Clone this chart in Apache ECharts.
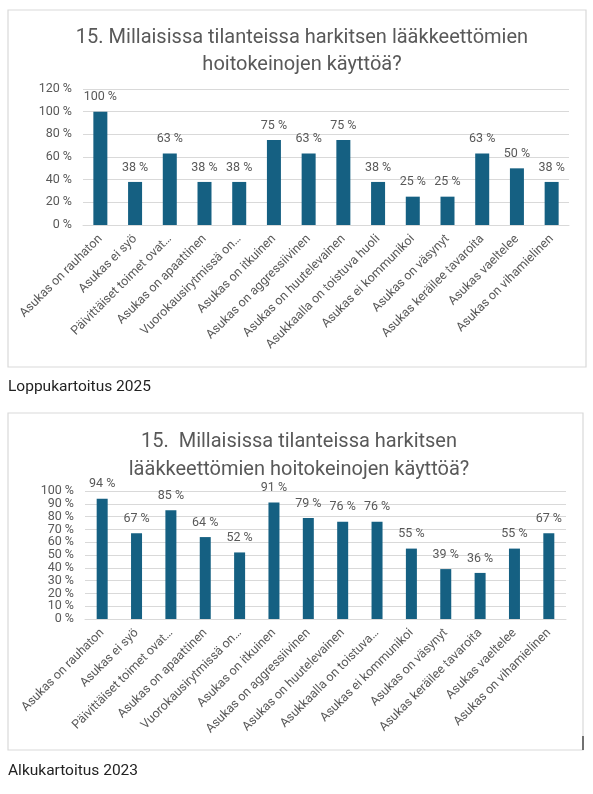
<!DOCTYPE html>
<html>
<head>
<meta charset="utf-8">
<script src="https://cdn.jsdelivr.net/npm/echarts@6/dist/echarts.min.js"></script>
<style>
    html, body { margin: 0; padding: 0; background: #fff; }
    #chart { width: 593px; height: 794px; }
</style>
</head>
<body>
<div id="chart"></div>
<script>
    "use strict";

    // ------------------------------
    // Data
    // ------------------------------
    var categories2025 = ['Asukas on rauhaton', 'Asukas ei syö', 'Päivittäiset toimet ovat…', 'Asukas on apaattinen',
        'Vuorokausirytmissä on…', 'Asukas on itkuinen', 'Asukas on aggressiivinen', 'Asukas on huutelevainen',
        'Asukkaalla on toistuva huoli', 'Asukas ei kommunikoi', 'Asukas on väsynyt', 'Asukas keräilee tavaroita',
        'Asukas vaeltelee', 'Asukas on vihamielinen'];
    var values2025 = [100, 38, 63, 38, 38, 75, 63, 75, 38, 25, 25, 63, 50, 38];
    var ticks2025 = [0, 20, 40, 60, 80, 100, 120];

    var categories2023 = ['Asukas on rauhaton', 'Asukas ei syö', 'Päivittäiset toimet ovat…', 'Asukas on apaattinen',
        'Vuorokausirytmissä on…', 'Asukas on itkuinen', 'Asukas on aggressiivinen', 'Asukas on huutelevainen',
        'Asukkaalla on toistuva…', 'Asukas ei kommunikoi', 'Asukas on väsynyt', 'Asukas keräilee tavaroita',
        'Asukas vaeltelee', 'Asukas on vihamielinen'];
    var values2023 = [94, 67, 85, 64, 52, 91, 79, 76, 76, 55, 39, 36, 55, 67];
    var ticks2023 = [0, 10, 20, 30, 40, 50, 60, 70, 80, 90, 100];

    var title2025 = '15. Millaisissa tilanteissa harkitsen lääkkeettömien\nhoitokeinojen käyttöä?';
    var title2023 = '15.  Millaisissa tilanteissa harkitsen\nlääkkeettömien hoitokeinojen käyttöä?';

    var barColor = '#156082';
    var textGray = '#595959';
    var lineGray = '#d9d9d9';
    var font = 'Roboto';

    function xAxisFor(cats, idx) {
        return {
            type: 'category',
            gridIndex: idx,
            data: cats,
            axisTick: { show: false },
            axisLine: { lineStyle: { color: lineGray } },
            axisLabel: {
                interval: 0,
                rotate: 45,
                margin: 12,
                fontSize: 12.5,
                fontFamily: font,
                color: textGray
            }
        };
    }

    // keep(i) decides which tick labels this axis writes; the 10 % steps of the
    // lower chart are split over two stacked axes so none gets dropped as overlap
    function yAxisFor(ticks, idx, keep, grid) {
        return {
            type: 'value',
            gridIndex: idx,
            position: 'left',
            offset: 0,
            min: ticks[0],
            max: ticks[ticks.length - 1],
            interval: ticks[1] - ticks[0],
            axisLine: { show: false },
            axisTick: { show: false },
            splitLine: { show: grid, lineStyle: { color: lineGray } },
            axisLabel: {
                margin: 11,
                fontSize: 12.5,
                fontFamily: font,
                color: textGray,
                showMinLabel: true,
                showMaxLabel: true,
                formatter: function (value) {
                    return keep(ticks.indexOf(value)) ? value + ' %' : '';
                }
            }
        };
    }

    function all() { return true; }
    function even(i) { return i % 2 === 0; }
    function odd(i) { return i % 2 === 1; }

    function barSeries(values, xIdx, yIdx, width) {
        return {
            type: 'bar',
            xAxisIndex: xIdx,
            yAxisIndex: yIdx,
            data: values,
            barWidth: width,
            itemStyle: { color: barColor },
            label: {
                show: true,
                position: 'top',
                distance: 8,
                fontSize: 12.5,
                fontFamily: font,
                color: textGray,
                formatter: '{c} %'
            }
        };
    }

    var myChart = echarts.init(document.getElementById('chart'));
    var option = {
        animation: false,

        // Add titles
        title: [{
            text: title2025,
            left: 297,
            top: 19,
            textAlign: 'center',
            textStyle: { fontSize: 20, fontWeight: 'normal', fontFamily: font, color: textGray, lineHeight: 27 }
        }, {
            text: title2023,
            left: 294,
            top: 423,
            textAlign: 'center',
            textStyle: { fontSize: 20, fontWeight: 'normal', fontFamily: font, color: textGray, lineHeight: 28 }
        }],

        grid: [
            { left: 83, right: 24, top: 89, bottom: 569 },
            { left: 85, right: 27, top: 491, bottom: 175 }
        ],

        xAxis: [xAxisFor(categories2025, 0), xAxisFor(categories2023, 1)],
        yAxis: [
            yAxisFor(ticks2025, 0, all, true),
            yAxisFor(ticks2023, 1, even, true),
            yAxisFor(ticks2023, 1, odd, false)
        ],

        // Add series
        series: [barSeries(values2025, 0, 0, 14), barSeries(values2023, 1, 1, 11)],

        // Chart frames and captions
        graphic: [{
            type: 'rect',
            shape: { x: 8, y: 10, width: 578, height: 357 },
            style: { fill: 'none', stroke: lineGray, lineWidth: 1.2 },
            z: -1
        }, {
            type: 'rect',
            shape: { x: 8, y: 413, width: 575, height: 337 },
            style: { fill: 'none', stroke: lineGray, lineWidth: 1.2 },
            z: -1
        }, {
            type: 'text',
            left: 8,
            top: 379,
            style: { text: 'Loppukartoitus 2025', fontSize: 15.5, fontFamily: font, fill: '#222' }
        }, {
            type: 'text',
            left: 8,
            top: 763,
            style: { text: 'Alkukartoitus 2023', fontSize: 15.5, fontFamily: font, fill: '#222' }
        }, {
            type: 'line',
            shape: { x1: 583, y1: 736, x2: 583, y2: 750 },
            style: { stroke: '#222', lineWidth: 1.2 }
        }]
    };

    myChart.setOption(option);
</script>
</body>
</html>
